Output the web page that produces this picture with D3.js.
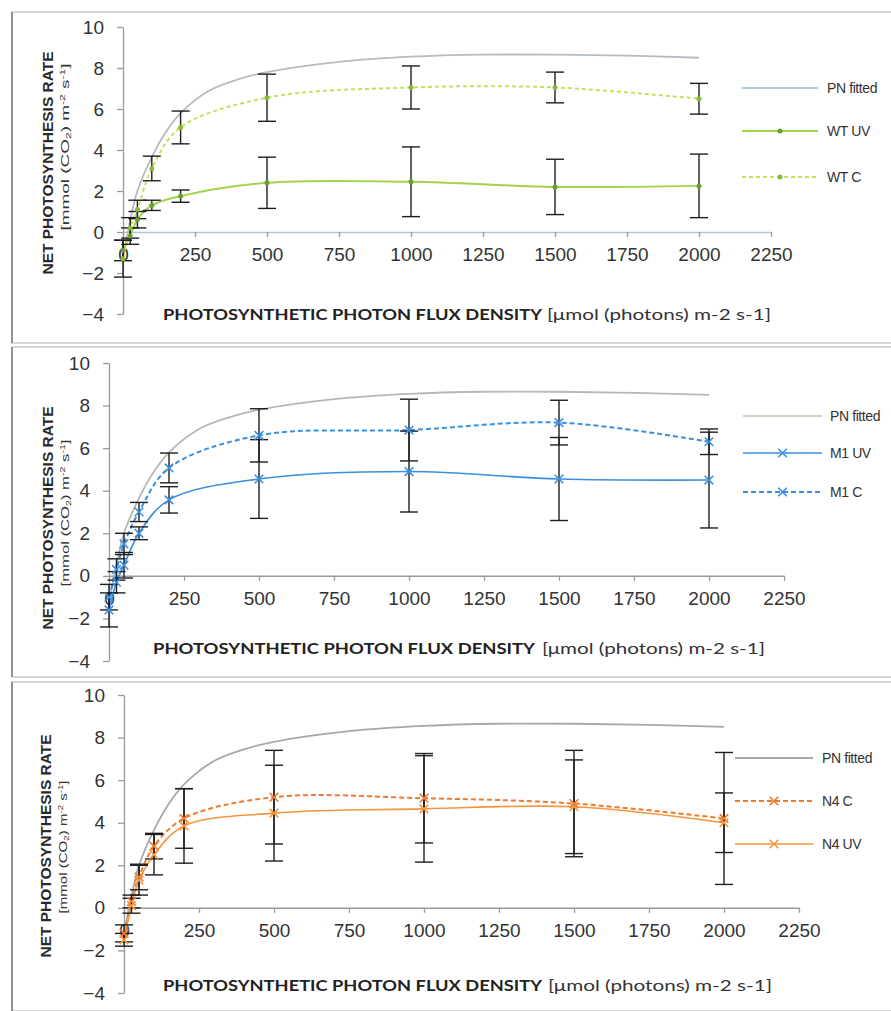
<!DOCTYPE html>
<html>
<head>
<meta charset="utf-8">
<script src="https://cdn.jsdelivr.net/npm/d3@7"></script>
<style>
  body { margin: 0; background: #fff; }
  svg { display: block; }
</style>
</head>
<body>
<div id="chart"></div>
<script>
// light levels (PPFD) used in the measurements
var ppfd = [0, 25, 50, 100, 200, 500, 1000, 1500, 2000];

// fitted light response curve (same in the three panels)
var fitX = [0, 25, 50, 100, 150, 200, 300, 400, 500, 750, 1000, 1250, 1500, 1750, 2000];
var pnFitted = [-1.3, 0.55, 2.0, 3.65, 4.9, 5.8, 6.9, 7.45, 7.8, 8.3, 8.55, 8.65, 8.65, 8.6, 8.5];

// WT
var wtUV = [-0.9, -0.2, 0.6, 1.3, 1.75, 2.4, 2.45, 2.2, 2.25];
var wtUVerr = [0.5, 0.4, 0.4, 0.25, 0.3, 1.25, 1.7, 1.35, 1.55];
var wtC = [-1.3, 0.2, 1.1, 3.1, 5.1, 6.55, 7.05, 7.05, 6.5];
var wtCerr = [0.9, 0.5, 0.45, 0.6, 0.8, 1.15, 1.05, 0.75, 0.75];

// M1
var m1UV = [-1.6, -0.3, 0.5, 2.0, 3.57, 4.55, 4.9, 4.55, 4.5];
var m1UVerr = [0.8, 0.5, 0.6, 0.3, 0.62, 1.85, 1.9, 1.95, 2.25];
var m1C = [-1.0, 0.3, 1.5, 3.0, 5.07, 6.6, 6.85, 7.2, 6.3];
var m1Cerr = [0.6, 0.5, 0.5, 0.45, 0.7, 1.25, 1.45, 1.05, 0.6];

// N4
var n4C = [-1.2, 0.3, 1.45, 2.9, 4.2, 5.2, 5.15, 4.9, 4.2];
var n4Cerr = [0.4, 0.3, 0.6, 0.6, 1.4, 2.2, 2.1, 2.5, 3.1];
var n4UV = [-1.5, 0.1, 1.3, 2.5, 3.85, 4.45, 4.65, 4.75, 4.0];
var n4UVerr = [0.3, 0.35, 0.7, 0.95, 1.75, 2.25, 2.5, 2.2, 1.4];

var xTicks = [0, 250, 500, 750, 1000, 1250, 1500, 1750, 2000, 2250];
var yTicks = [-4, -2, 0, 2, 4, 6, 8, 10];

var svg = d3.select("#chart").append("svg")
  .attr("width", 891)
  .attr("height", 1011);

// one config per panel (layout only)
var panels = [
  { top: 12, bottom: 343, xr: [123, 771], yr: [314, 27], axisColor: "#a8ccd8",
    fitColor: "#b4bcc2",
    yt1: 163, yt1len: 223, yt2: 147, yt2len: 167, ytx: 47,
    xt: [163, 542, 547, 771], xtY: 320,
    leg: { x1: 742, x2: 818, tx: 827, ys: [88, 131, 177] },
    series: [
      { label: "PN fitted", fit: true, color: "#a8d0de", dash: null },
      { label: "WT UV", vals: wtUV, err: wtUVerr, color: "#a4d44a", dash: null, w: 2, marker: "dot", mcol: "#6aa030" },
      { label: "WT C", vals: wtC, err: wtCerr, color: "#c6e05a", dash: "4,3", w: 2, marker: "dot", mcol: "#8ab838" }
    ] },
  { top: 347, bottom: 677, xr: [109, 784], yr: [661, 363], axisColor: "#9a9a9a",
    fitColor: "#b8b8b2",
    yt1: 518, yt1len: 223, yt2: 513, yt2len: 147, ytx: 47,
    xt: [153, 535, 542, 765], xtY: 654,
    leg: { x1: 743, x2: 822, tx: 830, ys: [416, 453, 492] },
    series: [
      { label: "PN fitted", fit: true, color: "#d4cfc0", dash: null },
      { label: "M1 UV", vals: m1UV, err: m1UVerr, color: "#3a8fe0", dash: null, w: 1.6, marker: "x", mcol: "#3a8fe0" },
      { label: "M1 C", vals: m1C, err: m1Cerr, color: "#3a8fe0", dash: "5,3", w: 2, marker: "x", mcol: "#3a8fe0" }
    ] },
  { top: 682, bottom: 1011, xr: [124, 799], yr: [993, 695], axisColor: "#9a9a9a",
    fitColor: "#a8a8a8",
    yt1: 846, yt1len: 223, yt2: 847, yt2len: 133, ytx: 45,
    xt: [163, 542, 548, 772], xtY: 991,
    leg: { x1: 735, x2: 813, tx: 822, ys: [758, 801, 844] },
    series: [
      { label: "PN fitted", fit: true, color: "#a8a8a8", dash: null },
      { label: "N4 C", vals: n4C, err: n4Cerr, color: "#f07a2c", dash: "5,3", w: 2, marker: "x", mcol: "#f07a2c" },
      { label: "N4 UV", vals: n4UV, err: n4UVerr, color: "#f5963e", dash: null, w: 1.6, marker: "x", mcol: "#f5963e" }
    ] }
];

panels.forEach(drawPanel);

function drawPanel(p) {
  var g = svg.append("g");

  // frame of the pasted chart
  g.append("rect")
    .attr("x", 12).attr("y", p.top)
    .attr("width", 900).attr("height", p.bottom - p.top)
    .attr("fill", "none")
    .attr("stroke", "#c8c8c8")
    .attr("stroke-width", 1.5);
  g.append("line")
    .attr("x1", 12).attr("x2", 12)
    .attr("y1", p.top).attr("y2", p.bottom)
    .attr("stroke", "#909090").attr("stroke-width", 2);

  var x = d3.scaleLinear().domain([0, 2250]).range(p.xr);
  var y = d3.scaleLinear().domain([-4, 10]).range(p.yr);

  // y axis
  var yAxis = g.append("g")
    .attr("transform", "translate(" + p.xr[0] + ",0)")
    .call(d3.axisLeft(y).tickValues(yTicks).tickSize(6).tickSizeOuter(0).tickPadding(13));
  yAxis.select(".domain").attr("stroke", "#9a9a9a").attr("stroke-width", 1.3);
  yAxis.selectAll(".tick line").attr("stroke", "#9a9a9a").attr("stroke-width", 1.3);
  yAxis.selectAll("text")
    .attr("font-family", "Liberation Sans, Arial, sans-serif")
    .attr("font-size", 19)
    .attr("fill", "#333");

  // x axis through zero
  var xAxis = g.append("g")
    .attr("transform", "translate(0," + y(0) + ")")
    .call(d3.axisBottom(x).tickValues(xTicks).tickFormat(d3.format("d"))
      .tickSize(5).tickSizeOuter(0).tickPadding(11));
  xAxis.select(".domain").attr("stroke", p.axisColor).attr("stroke-width", 1.5);
  xAxis.selectAll(".tick line").attr("stroke", "#9a9a9a").attr("stroke-width", 1.3);
  xAxis.selectAll("text")
    .attr("font-family", "Liberation Sans, Arial, sans-serif")
    .attr("font-size", 19)
    .attr("fill", "#333");

  // axis titles
  g.append("text")
    .attr("x", p.xt[0]).attr("y", p.xtY)
    .attr("font-family", "Lato, Open Sans, sans-serif")
    .attr("font-weight", "bold")
    .attr("font-size", 16)
    .attr("fill", "#222")
    .attr("textLength", p.xt[1] - p.xt[0])
    .attr("lengthAdjust", "spacingAndGlyphs")
    .text("PHOTOSYNTHETIC PHOTON FLUX DENSITY");
  g.append("text")
    .attr("x", p.xt[2]).attr("y", p.xtY)
    .attr("font-family", "Lato, Open Sans, sans-serif")
    .attr("font-size", 16)
    .attr("fill", "#333")
    .attr("textLength", p.xt[3] - p.xt[2])
    .attr("lengthAdjust", "spacingAndGlyphs")
    .text("[\u03bcmol (photons) m-2 s-1]");

  g.append("text")
    .attr("transform", "translate(" + (p.ytx + 6) + "," + p.yt1 + ") rotate(-90)")
    .attr("text-anchor", "middle")
    .attr("font-family", "Liberation Sans, Arial, sans-serif")
    .attr("font-weight", "bold")
    .attr("font-size", 15)
    .attr("fill", "#2a2a2a")
    .attr("textLength", p.yt1len)
    .attr("lengthAdjust", "spacingAndGlyphs")
    .text("NET PHOTOSYNTHESIS RATE");
  var t2 = g.append("text")
    .attr("transform", "translate(" + (p.ytx + 22) + "," + p.yt2 + ") rotate(-90)")
    .attr("text-anchor", "middle")
    .attr("font-family", "Liberation Sans, Arial, sans-serif")
    .attr("font-size", 11)
    .attr("fill", "#333")
    .attr("textLength", p.yt2len)
    .attr("lengthAdjust", "spacingAndGlyphs");
  t2.append("tspan").text("[mmol (CO");
  t2.append("tspan").attr("font-size", 7).attr("dy", 2).text("2");
  t2.append("tspan").attr("dy", -2).text(") m");
  t2.append("tspan").attr("font-size", 7).attr("dy", -4).text("-2");
  t2.append("tspan").attr("dy", 4).text(" s");
  t2.append("tspan").attr("font-size", 7).attr("dy", -4).text("-1");
  t2.append("tspan").attr("dy", 4).text("]");

  var line = d3.line()
    .x(function (d) { return x(d[0]); })
    .y(function (d) { return y(d[1]); })
    .curve(d3.curveCatmullRom.alpha(0.5));

  // fitted curve
  g.append("path")
    .datum(fitX.map(function (v, i) { return [v, pnFitted[i]]; }))
    .attr("d", line)
    .attr("fill", "none")
    .attr("stroke", p.fitColor)
    .attr("stroke-width", 1.8);

  var data = p.series.filter(function (s) { return !s.fit; });

  data.forEach(function (s) {
    g.append("path")
      .datum(ppfd.map(function (v, i) { return [v, s.vals[i]]; }))
      .attr("d", line)
      .attr("fill", "none")
      .attr("stroke", s.color)
      .attr("stroke-width", s.w)
      .attr("stroke-dasharray", s.dash);
  });

  // error bars
  data.forEach(function (s) {
    var eb = g.append("g").attr("stroke", "#1e1e1e").attr("stroke-width", 1.4);
    ppfd.forEach(function (v, i) {
      var cx = x(v), lo = y(s.vals[i] - s.err[i]), hi = y(s.vals[i] + s.err[i]);
      eb.append("line").attr("x1", cx).attr("x2", cx).attr("y1", lo).attr("y2", hi);
      eb.append("line").attr("x1", cx - 9).attr("x2", cx + 9).attr("y1", lo).attr("y2", lo);
      eb.append("line").attr("x1", cx - 9).attr("x2", cx + 9).attr("y1", hi).attr("y2", hi);
    });
  });

  // markers
  data.forEach(function (s) {
    ppfd.forEach(function (v, i) {
      drawMarker(g, s, x(v), y(s.vals[i]));
    });
  });

  // legend
  p.series.forEach(function (s, i) {
    var ly = p.leg.ys[i];
    g.append("line")
      .attr("x1", p.leg.x1).attr("x2", p.leg.x2)
      .attr("y1", ly).attr("y2", ly)
      .attr("stroke", s.color)
      .attr("stroke-width", s.fit ? 2 : s.w)
      .attr("stroke-dasharray", s.dash);
    if (!s.fit) drawMarker(g, s, (p.leg.x1 + p.leg.x2) / 2, ly);
    g.append("text")
      .attr("x", p.leg.tx).attr("y", ly + 5)
      .attr("font-family", "Liberation Sans, Arial, sans-serif")
      .attr("font-size", 14)
      .attr("letter-spacing", -0.4)
      .attr("fill", "#333")
      .text(s.label);
  });
}

function drawMarker(g, s, cx, cy) {
  if (s.marker === "dot") {
    g.append("circle")
      .attr("cx", cx).attr("cy", cy).attr("r", 2.5)
      .attr("fill", s.mcol);
  } else {
    g.append("path")
      .attr("transform", "translate(" + cx + "," + cy + ")")
      .attr("d", d3.symbol(d3.symbolX, 50)())
      .attr("fill", "none")
      .attr("stroke", s.mcol)
      .attr("stroke-width", 1.6);
  }
}
</script>
</body>
</html>
